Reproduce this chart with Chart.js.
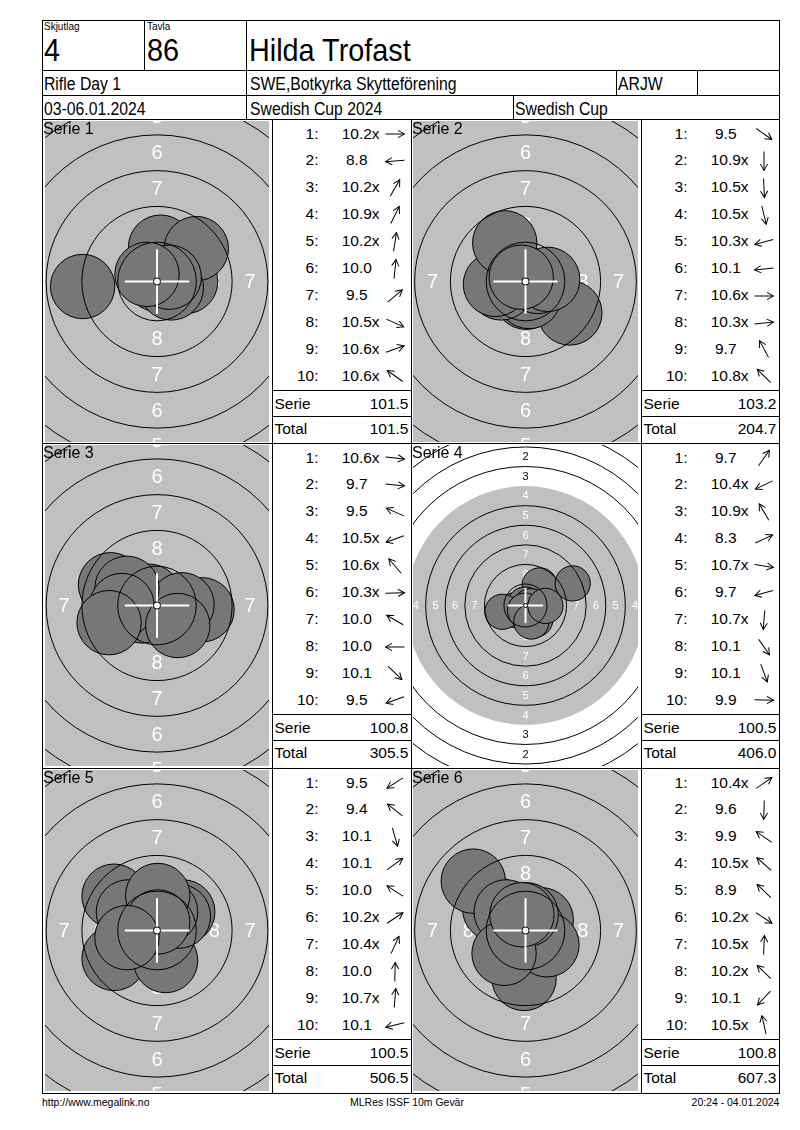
<!DOCTYPE html>
<html><head><meta charset="utf-8">
<script src="https://cdn.jsdelivr.net/npm/chart.js@4.4.1/dist/chart.umd.min.js"></script>
<style>
html,body{margin:0;padding:0;background:#fff;}
body{position:relative;width:800px;height:1130px;overflow:hidden;font-family:"Liberation Sans",Arial,sans-serif;}
.t{position:absolute;white-space:pre;color:#000;}
.ln{position:absolute;background:#000;}
canvas{position:absolute;}
svg{position:absolute;overflow:visible;}
</style></head><body>
<script>
// ---------- header texts ----------
const headLabelSquad = 'Skjutlag';
const headLabelLane = 'Tavla';
const squadNo = '4';
const laneNo = '86';
const shooterName = 'Hilda Trofast';
const eventName = 'Rifle Day 1';
const clubName = 'SWE,Botkyrka Skytteförening';
const classCode = 'ARJW';
const dateText = '03-06.01.2024';
const competitionName = 'Swedish Cup 2024';
const cupName = 'Swedish Cup';
const footerLeft = 'http://www.megalink.no';
const footerMid = 'MLRes ISSF 10m Gevär';
const footerRight = '20:24 - 04.01.2024';

// ---------- series data (shot positions in mm, x right, y up) ----------
const seriesLabels = ['Serie 1','Serie 2','Serie 3','Serie 4','Serie 5','Serie 6'];

const s1Scores = ['10.2x','8.8','10.2x','10.9x','10.2x','10.0','9.5','10.5x','10.6x','10.6x'];
const s1X = [2.0, -5.2, 1.0, 0.06, 0.3, 0.25, 2.75, 1.0, 0.85, -0.7];
const s1Y = [0.0, -0.35, 1.75, 0.12, 1.95, 2.4, 2.3, -0.45, 0.3, 0.5];

const s2Scores = ['9.5','10.9x','10.5x','10.5x','10.3x','10.1','10.6x','10.3x','9.7','10.8x'];
const s2X = [3.1, 0.0, 0.05, 0.25, -1.7, -2.1, 0.85, 1.55, -1.45, -0.3];
const s2Y = [-2.2, -0.15, -1.1, -1.05, -0.45, -0.2, 0.0, 0.15, 2.7, 0.3];

const s3Scores = ['10.6x','9.7','9.5','10.5x','10.6x','10.3x','10.0','10.0','10.1','9.5'];
const s3X = [0.85, 3.15, -3.25, -1.05, -0.55, 1.75, -2.1, -2.45, 1.45, -3.35];
const s3Y = [-0.1, -0.3, 1.45, -0.38, 0.65, 0.05, 1.2, 0.0, -1.4, -1.2];

const s4Scores = ['9.7','10.4x','10.9x','8.3','10.7x','9.7','10.7x','10.1','10.1','9.9'];
const s4X = [1.8, -1.25, -0.07, 6.03, 0.65, -2.95, -0.05, 1.25, 0.75, 2.55];
const s4Y = [2.56, -0.6, 0.12, 2.82, -0.1, -0.8, -0.65, -1.8, -2.05, -0.05];

const s5Scores = ['9.5','9.4','10.1','10.1','10.0','10.2x','10.4x','10.0','10.7x','10.1'];
const s5X = [-3.0, -3.0, 0.6, 1.8, -2.0, 1.5, 0.6, 0.05, 0.05, -2.1];
const s5Y = [-1.95, 2.4, -2.1, 1.3, 1.3, 1.0, 1.3, 2.45, 0.6, -0.5];

const s6Scores = ['10.4x','9.6','9.9','10.5x','8.9','10.2x','10.5x','10.2x','10.1','10.5x'];
const s6X = [1.1, -0.1, -2.15, -0.8, -3.65, 1.5, 0.05, -1.35, -1.5, -0.25];
const s6Y = [0.75, -3.35, 1.5, 0.7, 3.45, -1.0, 1.1, 1.3, -1.6, 1.1];

// visible half-height of each target view, in mm (axis range)
const viewHalfHeightMm = [11.22, 11.22, 11.22, 20.5, 11.22, 11.22];

const allScores = [s1Scores, s2Scores, s3Scores, s4Scores, s5Scores, s6Scores];
const allX = [s1X, s2X, s3X, s4X, s5X, s6X];
const allY = [s1Y, s2Y, s3Y, s4Y, s5Y, s6Y];

// ---------- target geometry (ISSF 10m air rifle) ----------
const PELLET_R = 2.25;
const ringRadius = n => 0.25 + (10 - n) * 2.5;
const FONT = '"Liberation Sans", Arial, sans-serif';

// ---------- helpers ----------
function txt(s, x, base, size, opts) {
  opts = opts || {};
  const d = document.createElement('div');
  d.className = 't';
  d.textContent = s;
  d.style.fontSize = size + 'px';
  d.style.lineHeight = size + 'px';
  d.style.top = (base - 0.8465 * size) + 'px';
  const sx = opts.sx || 1;
  if (opts.align === 'right') {
    d.style.right = (800 - x) + 'px';
    d.style.transformOrigin = 'right center';
    if (sx !== 1) d.style.transform = 'scaleX(' + sx + ')';
  } else if (opts.align === 'center') {
    d.style.left = x + 'px';
    d.style.transform = 'translateX(-50%) scaleX(' + sx + ')';
  } else {
    d.style.left = x + 'px';
    d.style.transformOrigin = 'left center';
    if (sx !== 1) d.style.transform = 'scaleX(' + sx + ')';
  }
  if (opts.z) d.style.zIndex = opts.z;
  document.body.appendChild(d);
}
function hline(x1, x2, y) {
  const d = document.createElement('div'); d.className = 'ln';
  d.style.left = x1 + 'px'; d.style.top = y + 'px'; d.style.width = (x2 - x1 + 1) + 'px'; d.style.height = '1px';
  d.style.zIndex = 5; document.body.appendChild(d);
}
function vline(x, y1, y2) {
  const d = document.createElement('div'); d.className = 'ln';
  d.style.left = x + 'px'; d.style.top = y1 + 'px'; d.style.width = '1px'; d.style.height = (y2 - y1 + 1) + 'px';
  d.style.zIndex = 5; document.body.appendChild(d);
}
const NS = 'http://www.w3.org/2000/svg';
function arrow(cx, cy, ang) {
  const svg = document.createElementNS(NS, 'svg');
  svg.setAttribute('width', 24); svg.setAttribute('height', 24);
  svg.style.left = (cx - 12) + 'px'; svg.style.top = (cy - 12) + 'px';
  const g = document.createElementNS(NS, 'g');
  g.setAttribute('transform', 'rotate(' + (-ang * 180 / Math.PI) + ' 12 12)');
  g.setAttribute('stroke', '#000'); g.setAttribute('stroke-width', '1'); g.setAttribute('fill', 'none');
  const l = document.createElementNS(NS, 'line');
  l.setAttribute('x1', 2.5); l.setAttribute('y1', 12); l.setAttribute('x2', 21.5); l.setAttribute('y2', 12);
  const p = document.createElementNS(NS, 'polyline');
  p.setAttribute('points', '15,8.4 21.5,12 15,15.6');
  g.appendChild(l); g.appendChild(p); svg.appendChild(g);
  document.body.appendChild(svg);
}

// ---------- target plugin ----------
const targetPlugin = {
  id: 'issfTarget',
  beforeDatasetsDraw(chart) {
    const { ctx, chartArea: a, scales } = chart;
    const cx = scales.x.getPixelForValue(0), cy = scales.y.getPixelForValue(0);
    const k = Math.abs(scales.x.getPixelForValue(1) - cx);
    ctx.save();
    ctx.beginPath(); ctx.rect(a.left, a.top, a.right - a.left, a.bottom - a.top); ctx.clip();
    ctx.fillStyle = '#ffffff'; ctx.fillRect(a.left, a.top, a.right - a.left, a.bottom - a.top);
    ctx.fillStyle = '#c0c0c0';
    ctx.beginPath(); ctx.arc(cx, cy, ringRadius(4) * k, 0, Math.PI * 2); ctx.fill();
    const fp = Math.round(1.42 * k);
    ctx.font = fp + 'px ' + FONT;
    ctx.textAlign = 'center'; ctx.textBaseline = 'middle';
    for (let n = 1; n <= 8; n++) {
      const m = ringRadius(n) - 1.25;
      ctx.fillStyle = m < ringRadius(4) ? '#ffffff' : '#000000';
      const pts = [[0, m], [0, -m], [m, 0], [-m, 0]];
      pts.forEach(([dx, dy]) => {
        ctx.fillText(String(n), scales.x.getPixelForValue(dx), scales.y.getPixelForValue(dy) + fp * 0.04);
      });
    }
    ctx.restore();
  },
  afterDatasetsDraw(chart) {
    const { ctx, chartArea: a, scales } = chart;
    const cx = scales.x.getPixelForValue(0), cy = scales.y.getPixelForValue(0);
    const k = Math.abs(scales.x.getPixelForValue(1) - cx);
    ctx.save();
    ctx.beginPath(); ctx.rect(a.left, a.top, a.right - a.left, a.bottom - a.top); ctx.clip();
    ctx.strokeStyle = '#000'; ctx.lineWidth = 1;
    for (let n = 1; n <= 9; n++) {
      if (n === 4) continue;
      ctx.beginPath(); ctx.arc(cx, cy, ringRadius(n) * k, 0, Math.PI * 2); ctx.stroke();
    }
    ctx.strokeStyle = '#fff'; ctx.lineWidth = 2;
    const L = PELLET_R * k;
    ctx.beginPath();
    ctx.moveTo(cx - L, cy); ctx.lineTo(cx + L, cy);
    ctx.moveTo(cx, cy - L); ctx.lineTo(cx, cy + L);
    ctx.stroke();
    ctx.fillStyle = '#fff'; ctx.strokeStyle = '#000'; ctx.lineWidth = 1;
    ctx.beginPath(); ctx.arc(cx, cy, Math.max(ringRadius(10) * k, 2), 0, Math.PI * 2); ctx.fill(); ctx.stroke();
    ctx.restore();
  }
};
function pelletPx(chart) {
  const s = chart.scales.x;
  if (!s) return 10;
  return Math.abs(s.getPixelForValue(PELLET_R) - s.getPixelForValue(0));
}

// ---------- layout ----------
const rowTops = [119, 443, 768];
const rowBottom = 1093;
const targetCols = [{ left: 45, width: 224, label: 43 }, { left: 413, width: 225, label: 412 }];
const listCols = [{ left: 272, right: 411 }, { left: 641, right: 779 }];

// grid lines
hline(42, 779, 20); hline(42, 779, 70); hline(42, 779, 95); hline(42, 779, 119);
hline(42, 779, 443); hline(42, 779, 768); hline(42, 779, rowBottom);
vline(42, 20, rowBottom); vline(779, 20, rowBottom);
vline(144, 20, 70); vline(246, 20, 119);
vline(616, 70, 95); vline(697, 70, 95); vline(513, 95, 119);
vline(272, 119, rowBottom); vline(411, 119, rowBottom); vline(641, 119, rowBottom);

// header text
txt(headLabelSquad, 44, 30, 10.5, { sx: 0.95 });
txt(headLabelLane, 147, 30, 10.5, { sx: 0.95 });
txt(squadNo, 44, 61.5, 32, { sx: 0.9 });
txt(laneNo, 147, 61.5, 32, { sx: 0.9 });
txt(shooterName, 248.5, 61.5, 32, { sx: 0.9 });
txt(eventName, 44, 91, 17.5, { sx: 0.9 });
txt(clubName, 250, 91, 17.5, { sx: 0.9 });
txt(classCode, 618, 91, 17.5, { sx: 0.9 });
txt(dateText, 44, 115.5, 17.5, { sx: 0.9 });
txt(competitionName, 250, 115.5, 17.5, { sx: 0.9 });
txt(cupName, 515, 115.5, 17.5, { sx: 0.9 });

// footer
txt(footerLeft, 42, 1106, 11, { sx: 0.95 });
txt(footerMid, 407, 1106, 11, { align: 'center', sx: 0.95 });
txt(footerRight, 779, 1106, 11, { align: 'right', sx: 0.95 });

// series panels
let runningTotal = 0;
for (let s = 0; s < 6; s++) {
  const row = Math.floor(s / 2), col = s % 2;
  const T = rowTops[row];
  const tc = targetCols[col];
  const H = 321;
  const cv = document.createElement('canvas');
  cv.width = tc.width; cv.height = H;
  cv.style.left = tc.left + 'px'; cv.style.top = (T + 2) + 'px';
  cv.style.width = tc.width + 'px'; cv.style.height = H + 'px';
  document.body.appendChild(cv);
  const hh = viewHalfHeightMm[s];
  const hw = hh * tc.width / H;
  const pts = allX[s].map((x, i) => ({ x: x, y: allY[s][i] }));
  new Chart(cv, {
    type: 'scatter',
    data: { datasets: [{
      data: pts,
      pointRadius: c => pelletPx(c.chart),
      pointHoverRadius: c => pelletPx(c.chart),
      backgroundColor: '#777777',
      borderColor: '#000000',
      borderWidth: 1,
      clip: false
    }] },
    options: {
      responsive: false, animation: false, events: [],
      layout: { padding: 0 },
      plugins: { legend: { display: false }, tooltip: { enabled: false }, title: { display: false } },
      scales: {
        x: { type: 'linear', min: -hw, max: hw, display: false },
        y: { type: 'linear', min: -hh, max: hh, display: false }
      }
    },
    plugins: [targetPlugin]
  });
  txt(seriesLabels[s], tc.label, T + 15.3, 16, { z: 3 });

  // shot list
  const lc = listCols[col];
  const L = lc.left, R = lc.right;
  let serieSum = 0;
  for (let i = 0; i < 10; i++) {
    const sc = allScores[s][i];
    serieSum += parseFloat(sc);
    const cy = T + 14.2 + 26.9 * i;
    const base = cy + 5.5;
    txt((i + 1) + ':', L + 46.5, base, 15.5, { align: 'right' });
    txt((parseFloat(sc) < 10 ? ' ' : '') + sc, L + 69.7, base, 15.5);
    arrow(L + 123, cy + 1, Math.atan2(allY[s][i], allX[s][i]));
  }
  serieSum = Math.round(serieSum * 10) / 10;
  runningTotal = Math.round((runningTotal + serieSum) * 10) / 10;
  hline(L, R, T + 271);
  hline(L, R, T + 297);
  txt('Serie', L + 2.5, T + 284.3 + 5.6, 15.5);
  txt(serieSum.toFixed(1), R - 2.5, T + 284.3 + 5.6, 15.5, { align: 'right' });
  txt('Total', L + 2.5, T + 310 + 5.6, 15.5);
  txt(runningTotal.toFixed(1), R - 2.5, T + 310 + 5.6, 15.5, { align: 'right' });
}
</script>
</body></html>
